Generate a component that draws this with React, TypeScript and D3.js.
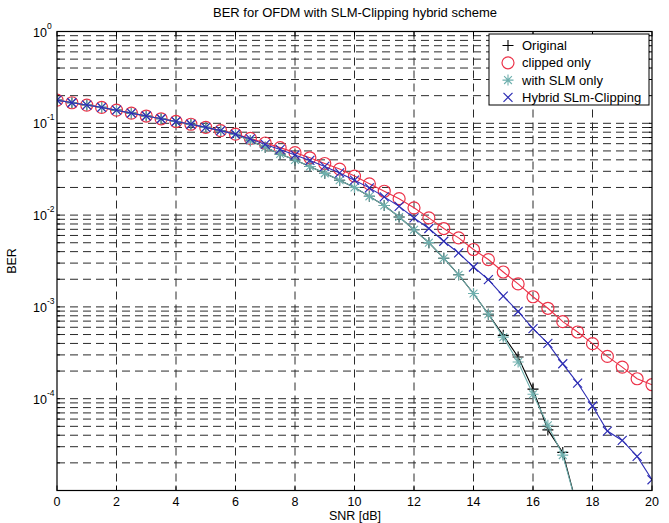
import React from "react";
import * as d3 from "d3";

const snr = [0,0.5,1,1.5,2,2.5,3,3.5,4,4.5,5,5.5,6,6.5,7,7.5,8,8.5,9,9.5,10,10.5,11,11.5,12,12.5,13,13.5,14,14.5,15,15.5,16,16.5,17,17.5,18,18.5,19,19.5,20];

const original: (number | null)[] = [0.179,0.1675,0.158,0.149,0.139,0.129,0.120,0.112,0.1047,0.0977,0.0902,0.0832,0.0759,
  0.0646,0.0550,0.0462,0.0398,0.0339,0.0285,0.0240,0.0200,0.0160,0.0127,0.00955,0.00692,0.00501,0.00339,0.00224,0.00140,0.000832,
  0.00049,0.000285,0.000127,0.0000457,0.000026,0.0000063,null,null,null,null,null];

const clipped: (number | null)[] = [0.179,0.1675,0.158,0.149,0.139,0.129,0.120,0.112,0.1047,0.0977,0.0902,0.0832,0.0762,
  0.0684,0.0610,0.0543,0.0479,0.0421,0.0365,0.0317,0.0266,0.0219,0.0182,0.0151,0.0120,0.00933,0.00714,0.00565,0.00422,0.00328,
  0.00240,0.00178,0.00129,0.000966,0.000692,0.000533,0.000398,0.000289,0.000221,0.000165,0.000142];

const slmOnly: (number | null)[] = [0.179,0.1675,0.158,0.149,0.139,0.129,0.120,0.112,0.1047,0.0977,0.0902,0.0830,0.0755,
  0.0646,0.0550,0.0462,0.0398,0.0339,0.0285,0.0240,0.0200,0.0160,0.0127,0.00955,0.00692,0.00501,0.00339,0.00224,0.00140,0.000832,
  0.000468,0.000251,0.000112,0.0000513,0.0000243,0.0000063,null,null,null,null,null];

const hybrid: (number | null)[] = [0.179,0.1675,0.158,0.149,0.139,0.129,0.120,0.112,0.1047,0.0977,0.0902,0.0832,0.0760,
  0.0676,0.0589,0.0519,0.0452,0.0394,0.0339,0.0288,0.0240,0.0198,0.0158,0.01245,0.00933,0.00714,0.00519,0.00387,0.00272,0.00198,
  0.00131,0.000891,0.000579,0.000401,0.000240,0.000148,0.0000832,0.0000444,0.0000351,0.0000235,0.0000131];

const xTicks = [0,2,4,6,8,10,12,14,16,18,20];
const yTickExps = [0,-1,-2,-3,-4];
const legendLabels = ["Original","clipped only","with SLM only","Hybrid SLm-Clipping"];
const titleText = "BER for OFDM with SLM-Clipping hybrid scheme";
const xLabel = "SNR [dB]";
const yLabel = "BER";

const COLORS = { orig: "#000000", clip: "#ec3349", slm: "#6fb0ae", hyb: "#2e2eb4" };
const FONT = "'Liberation Sans', Arial, Helvetica, sans-serif";

const L = 57, R = 652, T = 31.5, B = 490.5;

function Marker({ type, x, y, color }: { type: string; x: number; y: number; color: string }) {
  if (type === "plus") {
    const s = 5.5;
    return <path d={`M${x - s},${y}H${x + s}M${x},${y - s}V${y + s}`} stroke={color} strokeWidth={1.1} fill="none" />;
  }
  if (type === "circle") {
    return <circle cx={x} cy={y} r={6} stroke={color} strokeWidth={1.2} fill="none" />;
  }
  if (type === "star") {
    const s = 5.5, d = 3.9;
    return (
      <path
        d={`M${x - s},${y}H${x + s}M${x},${y - s}V${y + s}M${x - d},${y - d}L${x + d},${y + d}M${x - d},${y + d}L${x + d},${y - d}`}
        stroke={color} strokeWidth={1.1} fill="none" />
    );
  }
  const s = 4.5;
  return <path d={`M${x - s},${y - s}L${x + s},${y + s}M${x - s},${y + s}L${x + s},${y - s}`} stroke={color} strokeWidth={1.2} fill="none" />;
}

export default function App() {
  const x = d3.scaleLinear().domain([0, 20]).range([L, R]);
  const y = d3.scaleLog().domain([1e-5, 1]).range([B, T]);

  const series = [
    { name: legendLabels[0], data: original, color: COLORS.orig, marker: "plus" },
    { name: legendLabels[1], data: clipped, color: COLORS.clip, marker: "circle" },
    { name: legendLabels[2], data: slmOnly, color: COLORS.slm, marker: "star" },
    { name: legendLabels[3], data: hybrid, color: COLORS.hyb, marker: "x" },
  ];

  const line = d3
    .line<[number, number | null]>()
    .defined((d) => d[1] !== null && (d[1] as number) > 0)
    .x((d) => x(d[0]))
    .y((d) => y(d[1] as number));

  const hGrid: number[] = [];
  for (let e = -5; e <= -1; e++) {
    for (let k = 1; k <= 9; k++) {
      const v = k * Math.pow(10, e);
      if (v > 1e-5 * 1.001) hGrid.push(v);
    }
  }
  const vGrid = xTicks.filter((t) => t > 0 && t < 20);

  const legX = 489, legY = 34, legW = 160, legH = 71;

  return (
    <svg width={669} height={523} style={{ position: "absolute", left: 0, top: 0, background: "#fff" }} fontFamily={FONT}>
      <defs>
        <clipPath id="plotClip">
          <rect x={L} y={T} width={R - L} height={B - T} />
        </clipPath>
      </defs>
      <rect x={0} y={0} width={669} height={523} fill="#fff" />
      {/* grid */}
      <g stroke="#2a2a2a" strokeWidth={1} strokeDasharray="8,5">
        {hGrid.map((v, i) => (
          <line key={"h" + i} x1={L} x2={R} y1={y(v)} y2={y(v)} />
        ))}
        {vGrid.map((t, i) => (
          <line key={"v" + i} x1={x(t)} x2={x(t)} y1={T} y2={B} />
        ))}
      </g>
      {/* ticks */}
      <g stroke="#000" strokeWidth={1}>
        {xTicks.map((t, i) => (
          <g key={"xt" + i}>
            <line x1={x(t)} x2={x(t)} y1={B} y2={B - 5} />
            <line x1={x(t)} x2={x(t)} y1={T} y2={T + 5} />
          </g>
        ))}
        {hGrid.map((v, i) => (
          <g key={"yt" + i}>
            <line x1={L} x2={L + 3} y1={y(v)} y2={y(v)} />
            <line x1={R} x2={R - 3} y1={y(v)} y2={y(v)} />
          </g>
        ))}
      </g>
      {/* series */}
      <g clipPath="url(#plotClip)">
        {series.map((s, si) => {
          const pts = snr.map((v, i) => [v, s.data[i]] as [number, number | null]);
          return (
            <g key={"s" + si}>
              <path d={line(pts) || ""} fill="none" stroke={s.color} strokeWidth={1.1} />
              {pts
                .filter((p) => p[1] !== null)
                .map((p, i) => (
                  <Marker key={i} type={s.marker} x={x(p[0])} y={y(p[1] as number)} color={s.color} />
                ))}
            </g>
          );
        })}
      </g>
      {/* frame */}
      <rect x={L} y={T} width={R - L} height={B - T} fill="none" stroke="#000" strokeWidth={1.2} />
      {/* x tick labels */}
      <g fontSize={12.5} textAnchor="middle" fill="#000">
        {xTicks.map((t, i) => (
          <text key={"xl" + i} x={x(t)} y={505.5}>{t}</text>
        ))}
      </g>
      {/* y tick labels */}
      <g fontSize={12.5} fill="#000">
        {yTickExps.map((e, i) => (
          <text key={"yl" + i} x={33} y={y(Math.pow(10, e)) + 5} textAnchor="start">
            10
            <tspan dy={-8} fontSize={8.5}>{e}</tspan>
          </text>
        ))}
      </g>
      {/* titles */}
      <text x={355} y={17} fontSize={13} textAnchor="middle">{titleText}</text>
      <text x={355} y={520} fontSize={12.5} textAnchor="middle">{xLabel}</text>
      <text transform={`translate(16,261) rotate(-90)`} fontSize={12.5} textAnchor="middle">{yLabel}</text>
      {/* legend */}
      <rect x={legX} y={legY} width={legW} height={legH} fill="#fff" stroke="#000" strokeWidth={1} />
      {series.map((s, i) => {
        const ly = 45.5 + i * 17.3;
        return (
          <g key={"lg" + i}>
            <Marker type={s.marker} x={508} y={ly} color={s.color} />
            <text x={522} y={ly + 4.5} fontSize={13} fill="#000">{s.name}</text>
          </g>
        );
      })}
    </svg>
  );
}
